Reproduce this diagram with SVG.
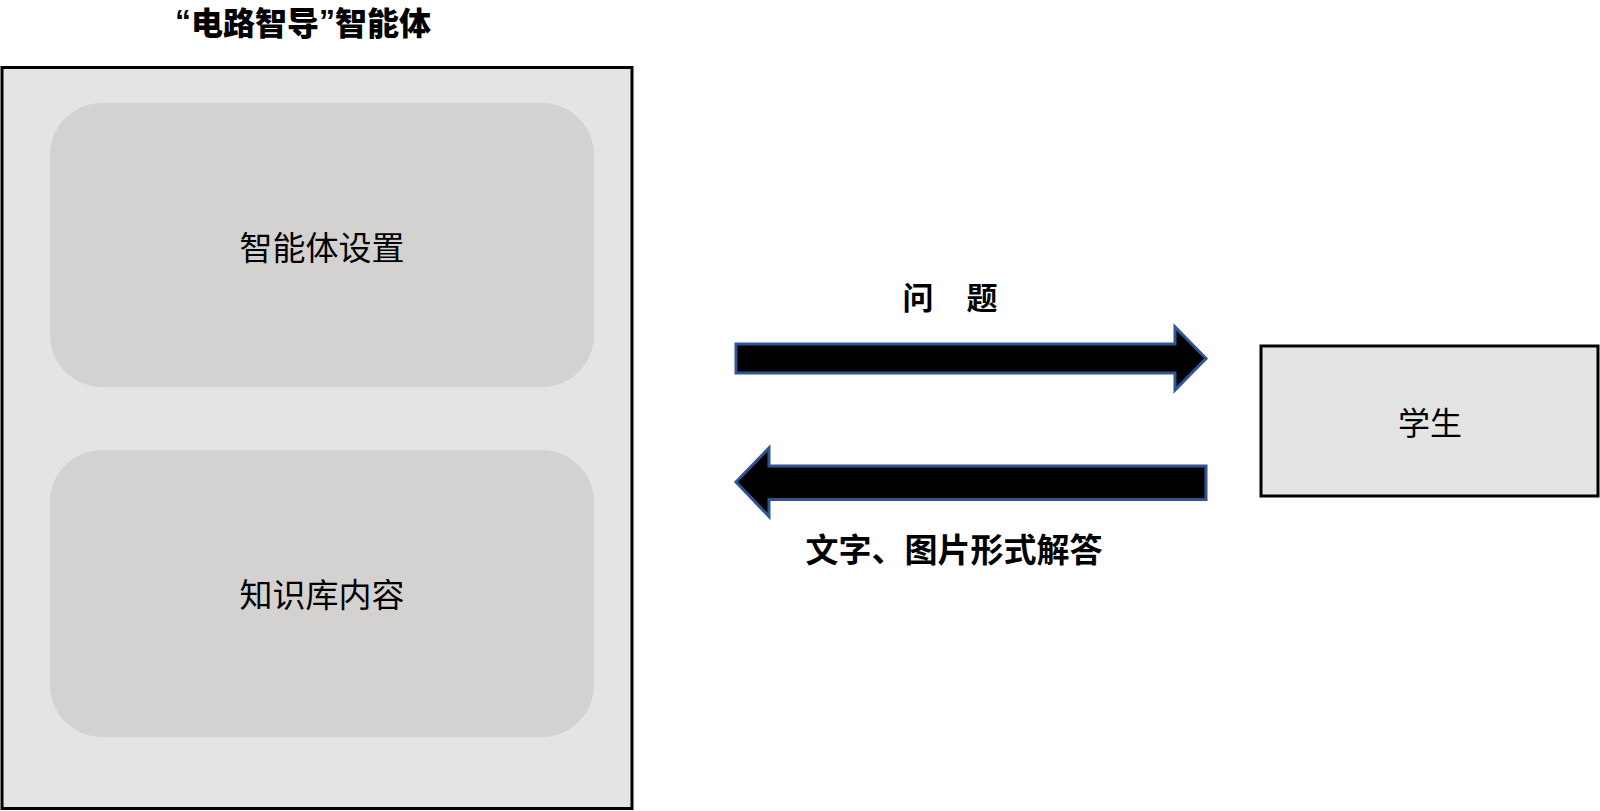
<svg xmlns="http://www.w3.org/2000/svg" width="1600" height="811" viewBox="0 0 1600 811">
<style>
text{font-family:"Noto Sans CJK SC","Noto Sans",sans-serif;dominant-baseline:central;text-anchor:middle;fill:#000}
.lbl{font-size:33px;font-weight:400}
.bold{font-size:33px;font-weight:700}
.q{font-family:"Liberation Sans",sans-serif}
.frame{fill:#e4e4e4;stroke:#000;stroke-width:3}
.inner{fill:#d4d1d1;stroke:none}
.arrow{fill:#000;stroke:#2f5597;stroke-width:3;stroke-linejoin:miter}
</style>
<rect width="1600" height="811" fill="#fff"/>
<g id="agent">
<rect class="frame" x="2" y="67.5" width="630" height="741"/>
<text class="bold" x="303" y="21" style="font-weight:900;font-size:32px"><tspan class="q">“</tspan>电路智导<tspan class="q">”</tspan>智能体</text>
</g>
<g id="settings">
<rect class="inner" x="50" y="103" width="544" height="284" rx="52" ry="52"/>
<text class="lbl" x="322" y="246">智能体设置</text>
</g>
<g id="knowledge">
<rect class="inner" x="50" y="450" width="544" height="287" rx="52" ry="52"/>
<text class="lbl" x="322" y="593">知识库内容</text>
</g>
<g id="student">
<rect class="frame" x="1261" y="346" width="337" height="150"/>
<text class="lbl" x="1430" y="421" style="font-size:32px">学生</text>
</g>
<g id="connectors">
<polygon class="arrow" points="736,344 1175,344 1175,327 1206,358.5 1175,390 1175,373 736,373"/>
<polygon class="arrow" points="1206,466 769,466 769,448 736,482 769,516.5 769,499.5 1206,499.5"/>
<text class="bold" x="950" y="295" style="font-size:31px" word-spacing="26">问 题</text>
<text class="bold" x="954" y="548">文字、图片形式解答</text>
</g>
</svg>
